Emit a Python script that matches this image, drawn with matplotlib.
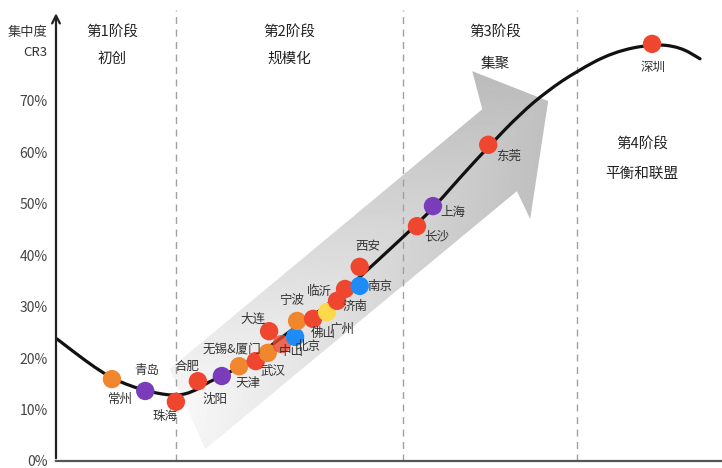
import numpy as np
import matplotlib
matplotlib.use("Agg")
import matplotlib.pyplot as plt
from matplotlib.patches import Polygon
from matplotlib.path import Path
from matplotlib.patches import PathPatch

plt.rcParams['font.family'] = ['Noto Sans CJK SC', 'DejaVu Sans']

# S-curve of concentration (CR3, %) against development position (0-100)
curve_x = [0.15, 2.85, 5.9, 8.4, 11.1, 14.1, 17.9, 20.6, 22.4, 24.9,
           27.6, 30.6, 33.6, 36.6, 41.1, 45.6, 50.2, 54.2, 57.2, 60.7, 65.2,
           69.7, 73.7, 78.2, 83.6, 89.6, 93.7, 96.7]
curve_y = [23.7, 21.0, 18.1, 16.1, 14.6, 13.4, 12.6, 13.4, 15.0, 16.5,
           18.3, 20.8, 23.7, 26.6, 30.5, 35.7, 41.2, 46.0, 49.9, 55.1, 61.4,
           67.4, 71.8, 75.7, 79.4, 81.0, 80.4, 78.1]

# cities on the curve
cities = ['常州', '青岛', '珠海', '合肥', '沈阳', '天津', '武汉', '无锡&厦门', '大连',
          '中山', '北京', '宁波', '佛山', '临沂', '广州', '济南', '西安', '南京',
          '长沙', '上海', '东莞', '深圳']
city_x = [8.4, 13.4, 18.0, 21.3, 24.9, 27.5, 30.0, 31.8, 32.0,
          33.9, 35.9, 36.2, 38.6, 40.7, 42.2, 43.4, 45.6, 45.6,
          54.2, 56.6, 64.9, 89.5]
city_cr3 = [15.9, 13.6, 11.5, 15.5, 16.5, 18.4, 19.4, 21.0, 25.2,
            22.7, 24.1, 27.2, 27.6, 28.9, 31.1, 33.4, 37.7, 34.0,
            45.6, 49.5, 61.4, 81.0]
city_kind = ['o', 'p', 'r', 'r', 'p', 'o', 'r', 'o', 'r',
             'r', 'b', 'o', 'r', 'y', 'r', 'r', 'r', 'b',
             'r', 'p', 'r', 'r']
# where each city name is written
label_x = [9.6, 13.7, 16.4, 19.7, 23.9, 28.8, 32.6, 26.4, 29.6,
           35.4, 37.8, 35.4, 40.1, 39.6, 42.9, 44.9, 46.8, 48.6,
           57.2, 59.6, 67.9, 89.6]
label_y = [12.0, 17.5, 8.7, 18.4, 12.0, 15.0, 17.3, 21.7, 27.6,
           21.2, 22.3, 31.1, 24.7, 33.0, 25.6, 30.1, 41.6, 33.8,
           43.5, 48.3, 59.2, 76.5]

stage_x = [18.0, 52.1, 78.2]
stage_titles = ['第1阶段', '第2阶段', '第3阶段', '第4阶段']
stage_names = ['初创', '规模化', '集聚', '平衡和联盟']
stage_tx = [8.4, 35.1, 65.9, 88.0]
stage_ty1 = [83.3, 83.3, 83.3, 61.6]
stage_ty2 = [78.1, 78.1, 77.1, 55.7]

yticks = [0, 10, 20, 30, 40, 50, 60, 70]

colors = {'r': '#ef4630', 'o': '#f0862e', 'p': '#7b3cbc', 'b': '#1d8cf8', 'y': '#fdd84a'}

fig = plt.figure(figsize=(7.22, 4.68), dpi=100)
ax = fig.add_axes([56 / 722, 7 / 468, 666 / 722, 450.6 / 468])
ax.set_xlim(0, 100)
ax.set_ylim(0, 87.5)
for s in ax.spines.values():
    s.set_visible(False)
ax.set_xticks([])
ax.set_yticks(yticks)
ax.set_yticklabels([f'{v}%' for v in yticks], fontsize=10, color='#444')
ax.tick_params(axis='y', length=0, pad=6)

# big gray arrow behind the curve
arrow_xy = [(22.4, 2.3), (69.2, 52.4), (71.2, 47.0), (73.9, 69.9),
            (62.5, 75.7), (64.0, 68.3), (17.1, 17.9)]
poly = Polygon(arrow_xy, closed=True, facecolor='none', edgecolor='none')
ax.add_patch(poly)
gx, gy = np.meshgrid(np.linspace(0, 100, 500), np.linspace(0, 87.5, 440))
px = (gx - 19.8) * 6.66
py = (gy - 10.1) * 5.15
t = np.clip((px * 0.76 + py * 0.65) / 474, 0, 1)
u = (-px * 0.65 + py * 0.76) / 60
shade = 0.97 - 0.22 * t - 0.03 * np.abs(u)
ax.imshow(shade, extent=(0, 100, 0, 87.5), origin='lower', aspect='auto',
          cmap='gray', vmin=0, vmax=1, clip_path=poly, zorder=1,
          interpolation='bilinear')

# stage dividers
for sx in stage_x:
    ax.axvline(sx, color='#a0a0a0', lw=1, dashes=(5, 4), zorder=2)

# smooth curve through the knots (quadratic segments between midpoints)
pts = np.column_stack([curve_x, curve_y])
verts = [pts[0]]
codes = [Path.MOVETO]
for i in range(1, len(pts) - 1):
    verts += [pts[i], (pts[i] + pts[i + 1]) / 2]
    codes += [Path.CURVE3, Path.CURVE3]
verts.append(pts[-1])
codes.append(Path.LINETO)
ax.add_patch(PathPatch(Path(verts, codes), facecolor='none', edgecolor='#111',
                       lw=2.3, zorder=3, capstyle='round'))

for i in range(len(cities)):
    a = 0.8 if cities[i] == '中山' else 1.0
    ax.scatter(city_x[i], city_cr3[i], s=175, color=colors[city_kind[i]],
               alpha=a, edgecolors='none', zorder=4 + i * 0.01)
    ax.text(label_x[i], label_y[i], cities[i], fontsize=9, color='#333',
            ha='center', va='center', zorder=5)

for i in range(4):
    ax.text(stage_tx[i], stage_ty1[i], stage_titles[i], fontsize=10.5,
            color='#222', ha='center', va='center')
    ax.text(stage_tx[i], stage_ty2[i], stage_names[i], fontsize=10.5,
            color='#222', ha='center', va='center')

# axes drawn by hand: arrowed y axis, plain x axis
ax.annotate('', xy=(0, 87.5), xytext=(0, 0),
            arrowprops=dict(arrowstyle='->', lw=1.6, color='#222',
                            mutation_scale=14), annotation_clip=False)
ax.plot([0, 100], [0, 0], color='#555', lw=1.6, clip_on=False, zorder=6)

ax.text(-1.35, 83.3, '集中度', fontsize=9.5, color='#333', ha='right', va='center')
ax.text(-1.35, 79.4, 'CR3', fontsize=9.5, color='#333', ha='right', va='center')

fig.savefig('out.png', dpi=100)
